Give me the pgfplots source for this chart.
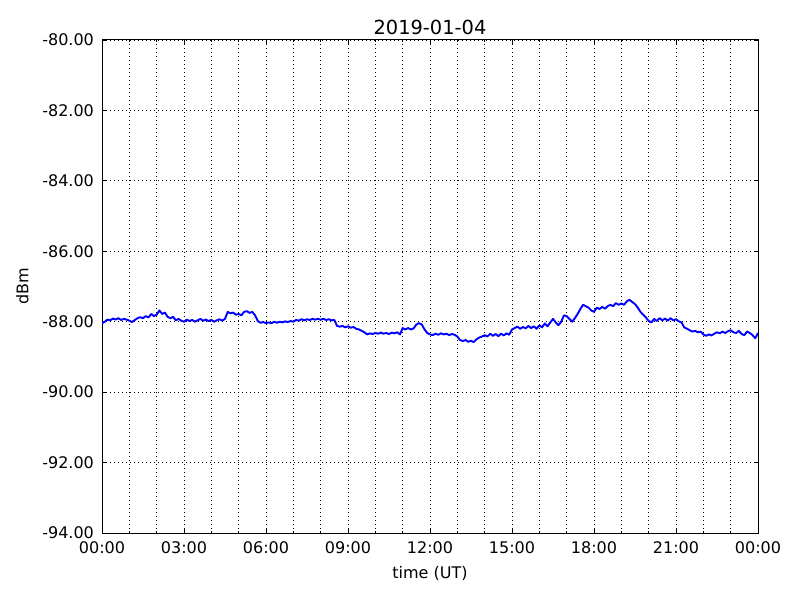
\documentclass[border=0pt]{standalone}
\usepackage{pgfplots}
\pgfplotsset{compat=1.18}
\usepackage{fontspec}
\setmainfont{DejaVu Sans}
\begin{document}
\begin{tikzpicture}
\begin{axis}[
  name=ax,
  width=328pt, height=246.5pt, scale only axis,
  xmin=0, xmax=24, ymin=-94, ymax=-80,
  xtick={0,3,...,24},
  xticklabels={00:00,03:00,06:00,09:00,12:00,15:00,18:00,21:00,00:00},
  minor xtick={0,1,...,24},
  ytick={-94,-92,...,-80},
  yticklabels={-94.00,-92.00,-90.00,-88.00,-86.00,-84.00,-82.00,-80.00},
  tick align=inside,
  major tick length=2pt, minor tick length=1pt,
  every tick/.style={black, line width=0.4pt},
  xmajorgrids, xminorgrids, ymajorgrids,
  grid style={black, line width=0.4pt, dash pattern=on 0.5pt off 1.5pt},
  minor grid style={black, line width=0.4pt, dash pattern=on 0.5pt off 1.5pt},
  axis line style={black, line width=0.5pt},
  tick label style={font=\fontsize{8}{9.6}\selectfont},
  label style={font=\fontsize{8}{9.6}\selectfont},
  title style={font=\fontsize{9.7}{11.6}\selectfont, yshift=-7pt},
  title={2019-01-04},
  xlabel={time (UT)},
  ylabel={dBm},
  xticklabel style={yshift=-1pt},
  xlabel style={yshift=1pt},
  yticklabel style={xshift=-0.5pt},
  /pgf/number format/assume math mode=true,
]
\addplot[blue, line width=0.95pt, mark=none, line join=round] coordinates {
(0.0,-88.05) (0.1,-88.00) (0.2,-87.94) (0.3,-87.96) (0.4,-87.91) (0.5,-87.94) (0.6,-87.90) (0.7,-87.95) (0.8,-87.92) (0.9,-87.94)
(1.0,-87.97) (1.1,-88.01) (1.2,-87.95) (1.3,-87.90) (1.4,-87.87) (1.5,-87.90) (1.6,-87.84) (1.7,-87.88) (1.8,-87.78) (1.9,-87.84)
(2.0,-87.80) (2.1,-87.68) (2.2,-87.78) (2.3,-87.74) (2.4,-87.86) (2.5,-87.90) (2.6,-87.86) (2.7,-87.96) (2.8,-87.92) (2.9,-87.97)
(3.0,-88.00) (3.1,-87.94) (3.2,-87.98) (3.3,-87.95) (3.4,-88.00) (3.5,-87.96) (3.6,-87.92) (3.7,-87.97) (3.8,-87.94) (3.9,-87.98)
(4.0,-87.95) (4.1,-88.00) (4.2,-87.96) (4.3,-87.93) (4.4,-87.97) (4.5,-87.92) (4.6,-87.72) (4.7,-87.76) (4.8,-87.74) (4.9,-87.80)
(5.0,-87.78) (5.1,-87.82) (5.2,-87.72) (5.3,-87.70) (5.4,-87.75) (5.5,-87.72) (5.6,-87.82) (5.7,-87.98) (5.8,-88.03) (5.9,-88.01)
(6.0,-88.04) (6.1,-88.02) (6.2,-88.04) (6.3,-88.00) (6.4,-88.03) (6.5,-88.00) (6.6,-88.02) (6.7,-87.99) (6.8,-88.01) (6.9,-87.98)
(7.0,-88.00) (7.1,-87.95) (7.2,-87.97) (7.3,-87.93) (7.4,-87.96) (7.5,-87.93) (7.6,-87.95) (7.7,-87.92) (7.8,-87.94) (7.9,-87.92)
(8.0,-87.94) (8.1,-87.92) (8.2,-87.95) (8.3,-87.93) (8.4,-87.96) (8.5,-87.95) (8.6,-88.12) (8.7,-88.14) (8.8,-88.12) (8.9,-88.16)
(9.0,-88.13) (9.1,-88.17) (9.2,-88.15) (9.3,-88.20) (9.4,-88.22) (9.5,-88.26) (9.6,-88.30) (9.7,-88.36) (9.8,-88.33) (9.9,-88.35)
(10.0,-88.32) (10.1,-88.34) (10.2,-88.31) (10.3,-88.34) (10.4,-88.32) (10.5,-88.35) (10.6,-88.31) (10.7,-88.33) (10.8,-88.30) (10.9,-88.36)
(11.0,-88.18) (11.1,-88.22) (11.2,-88.18) (11.3,-88.22) (11.4,-88.19) (11.5,-88.08) (11.6,-88.04) (11.7,-88.08) (11.8,-88.22) (11.9,-88.32)
(12.0,-88.36) (12.1,-88.38) (12.2,-88.34) (12.3,-88.37) (12.4,-88.33) (12.5,-88.36) (12.6,-88.34) (12.7,-88.38) (12.8,-88.35) (12.9,-88.37)
(13.0,-88.42) (13.1,-88.52) (13.2,-88.55) (13.3,-88.52) (13.4,-88.57) (13.5,-88.54) (13.6,-88.58) (13.7,-88.50) (13.8,-88.45) (13.9,-88.42)
(14.0,-88.38) (14.1,-88.42) (14.2,-88.34) (14.3,-88.40) (14.4,-88.35) (14.5,-88.41) (14.6,-88.34) (14.7,-88.39) (14.8,-88.33) (14.9,-88.37)
(15.0,-88.22) (15.1,-88.18) (15.2,-88.14) (15.3,-88.20) (15.4,-88.15) (15.5,-88.19) (15.6,-88.12) (15.7,-88.18) (15.8,-88.13) (15.9,-88.20)
(16.0,-88.10) (16.1,-88.16) (16.2,-88.05) (16.3,-88.13) (16.4,-88.02) (16.5,-87.92) (16.6,-88.02) (16.7,-88.10) (16.8,-88.00) (16.9,-87.82)
(17.0,-87.84) (17.1,-87.92) (17.2,-88.00) (17.3,-87.90) (17.4,-87.78) (17.5,-87.64) (17.6,-87.52) (17.7,-87.56) (17.8,-87.60) (17.9,-87.68)
(18.0,-87.72) (18.1,-87.60) (18.2,-87.64) (18.3,-87.58) (18.4,-87.63) (18.5,-87.56) (18.6,-87.52) (18.7,-87.56) (18.8,-87.47) (18.9,-87.52)
(19.0,-87.48) (19.1,-87.52) (19.2,-87.42) (19.3,-87.38) (19.4,-87.44) (19.5,-87.50) (19.6,-87.60) (19.7,-87.72) (19.8,-87.80) (19.9,-87.88)
(20.0,-87.98) (20.1,-88.02) (20.2,-87.92) (20.3,-87.98) (20.4,-87.90) (20.5,-87.96) (20.6,-87.91) (20.7,-87.97) (20.8,-87.90) (20.9,-87.96)
(21.0,-87.93) (21.1,-87.99) (21.2,-88.02) (21.3,-88.16) (21.4,-88.20) (21.5,-88.24) (21.6,-88.28) (21.7,-88.26) (21.8,-88.30) (21.9,-88.28)
(22.0,-88.36) (22.1,-88.40) (22.2,-88.36) (22.3,-88.39) (22.4,-88.34) (22.5,-88.30) (22.6,-88.33) (22.7,-88.28) (22.8,-88.32) (22.9,-88.27)
(23.0,-88.24) (23.1,-88.30) (23.2,-88.32) (23.3,-88.26) (23.4,-88.35) (23.5,-88.38) (23.6,-88.28) (23.7,-88.32) (23.8,-88.38) (23.9,-88.47)
(24.0,-88.32)
};
\end{axis}
\path ([shift={(-51pt,-33.5pt)}]ax.south west) rectangle ([shift={(21pt,20pt)}]ax.north east);
\end{tikzpicture}
\end{document}
